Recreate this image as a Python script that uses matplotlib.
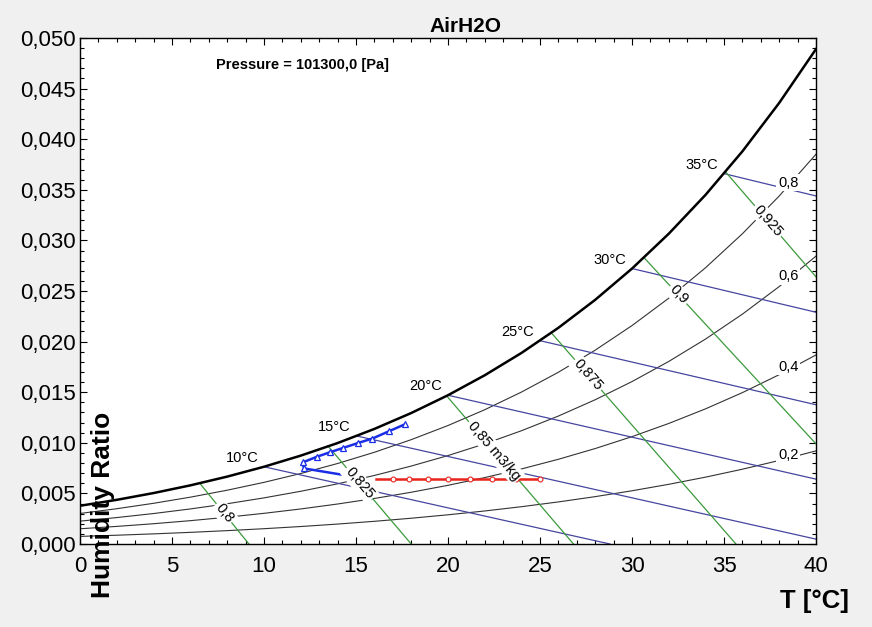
import numpy as np
import matplotlib
matplotlib.use("Agg")
import matplotlib.pyplot as plt
from matplotlib.ticker import MultipleLocator, FuncFormatter

plt.rcParams["font.family"] = ["Liberation Sans", "DejaVu Sans"]

# psychrometric chart data (T in C, humidity ratio in kg/kg)
temps = [0, 2, 4, 6, 8, 10, 12, 14, 16, 18, 20, 22, 24, 26, 28, 30, 32, 34, 36, 38, 40]
w_sat = [0.003776, 0.004365, 0.005035, 0.005796, 0.006659, 0.007634, 0.008734, 0.009975,
         0.011372, 0.012941, 0.014702, 0.016677, 0.018888, 0.021363, 0.024127, 0.027215,
         0.030663, 0.034507, 0.038799, 0.043585, 0.048906]
w_rh80 = [0.003017, 0.003487, 0.004022, 0.004628, 0.005316, 0.006092, 0.006968, 0.007955,
          0.009064, 0.010310, 0.011707, 0.013271, 0.015020, 0.016973, 0.019153, 0.021584,
          0.024290, 0.027304, 0.030657, 0.034386, 0.038519]
w_rh60 = [0.002260, 0.002612, 0.003011, 0.003465, 0.003978, 0.004558, 0.005211, 0.005947,
          0.006773, 0.007701, 0.008739, 0.009900, 0.011197, 0.012644, 0.014255, 0.016049,
          0.018042, 0.020255, 0.022713, 0.025438, 0.028448]
w_rh40 = [0.001505, 0.001739, 0.002004, 0.002306, 0.002647, 0.003031, 0.003464, 0.003952,
          0.004499, 0.005113, 0.005799, 0.006565, 0.007420, 0.008372, 0.009432, 0.010608,
          0.011913, 0.013358, 0.014959, 0.016731, 0.018681]
w_rh20 = [0.000751, 0.000868, 0.001001, 0.001151, 0.001320, 0.001512, 0.001727, 0.001970,
          0.002242, 0.002546, 0.002886, 0.003265, 0.003688, 0.004158, 0.004680, 0.005259,
          0.005900, 0.006608, 0.007391, 0.008254, 0.009202]
rh_labels = ["0,8", "0,6", "0,4", "0,2"]

# wet bulb lines (start on saturation curve)
wb_labels = ["10°C", "15°C", "20°C", "25°C", "30°C", "35°C"]
wb_start_T = [10, 15, 20, 25, 30, 35]
wb_start_w = [0.00763, 0.01069, 0.01470, 0.02009, 0.02722, 0.03660]
wb_end_T = [28.8, 40, 40, 40, 40, 40]
wb_end_w = [0.0, 0.00048, 0.00641, 0.01376, 0.02290, 0.03439]

# specific volume lines
vol_labels = ["0,8", "0,825", "0,85 m3/kg", "0,875", "0,9", "0,925"]
vol_start_T = [6.52, 13.47, 19.93, 25.6, 30.65, 35.07]
vol_start_w = [0.00598, 0.00970, 0.01463, 0.0209, 0.0283, 0.0368]
vol_end_T = [9.18, 18.0, 26.82, 35.65, 40, 40]
vol_end_w = [0.0, 0.0, 0.0, 0.0, 0.0099, 0.0264]

# process lines
blue_T = [17.66, 16.79, 15.89, 15.13, 14.31, 13.59, 12.86, 12.10, 12.17, 14.40]
blue_w = [0.01183, 0.01114, 0.01042, 0.00999, 0.00950, 0.00907, 0.00861, 0.00806, 0.00747, 0.00680]
red_T = [16.1, 17.0, 17.9, 18.9, 20.0, 21.2, 22.4, 23.7, 25.0]
red_w = [0.00641] * len(red_T)

fig = plt.figure(figsize=(8.72, 6.27), dpi=100, facecolor="#f0f0f0")
ax = fig.add_axes([80 / 872, 1 - 544 / 627, 736 / 872, 506 / 627])
ax.set_facecolor("white")
ax.set_xlim(0, 40)
ax.set_ylim(0, 0.05)

label_box = dict(boxstyle="square,pad=0.12", fc="white", ec="none")

# relative humidity curves
ax.plot(temps, w_sat, color="black", lw=1.8, zorder=3)
for lab, w in zip(rh_labels, [w_rh80, w_rh60, w_rh40, w_rh20]):
    ax.plot(temps, w, color="#333333", lw=0.8, zorder=2)
    ax.annotate(lab, (38.5, np.interp(38.5, temps, w)), xytext=(0, 3), textcoords="offset pixels",
                ha="center", va="center", fontsize=10.5, bbox=label_box, zorder=5)

# wet bulb lines
for lab, t0, w0, t1, w1 in zip(wb_labels, wb_start_T, wb_start_w, wb_end_T, wb_end_w):
    ax.plot([t0, t1], [w0, w1], color="#4646a0", lw=0.9, zorder=2)
    ax.annotate(lab, (t0, w0), xytext=(-22, 9), textcoords="offset pixels",
                ha="center", va="center", fontsize=10.5, zorder=5)

# specific volume lines
vol_frac = [0.49, 0.38, 0.37, 0.2, 0.2, 0.47]
for lab, t0, w0, t1, w1, f in zip(vol_labels, vol_start_T, vol_start_w, vol_end_T, vol_end_w, vol_frac):
    ax.plot([t0, t1], [w0, w1], color="#3c9a3c", lw=0.9, zorder=2)
    p0 = ax.transData.transform((t0, w0))
    p1 = ax.transData.transform((t1, w1))
    angle = np.degrees(np.arctan2(p1[1] - p0[1], p1[0] - p0[0]))
    ax.text(t0 + f * (t1 - t0), w0 + f * (w1 - w0), lab, rotation=angle, rotation_mode="anchor",
            ha="center", va="center", fontsize=10.5, bbox=label_box, zorder=6)

ax.plot(blue_T, blue_w, color="#1a2ee6", lw=1.8, marker="^", ms=4, mfc="white", mew=0.9,
        markevery=list(range(len(blue_T) - 1)), zorder=4)
ax.plot(red_T, red_w, color="#e8241c", lw=1.8, marker="o", ms=3.5, mfc="white", mew=0.8,
        markevery=list(range(1, len(red_T))), zorder=4)

ax.text(7.4, 0.0473, "Pressure = 101300,0 [Pa]", fontsize=10.5, fontweight="bold",
        ha="left", va="center")

ax.xaxis.set_major_locator(MultipleLocator(5))
ax.xaxis.set_minor_locator(MultipleLocator(1))
ax.yaxis.set_major_locator(MultipleLocator(0.005))
ax.yaxis.set_minor_locator(MultipleLocator(0.001))
ax.yaxis.set_major_formatter(FuncFormatter(lambda v, p: f"{v:.3f}".replace(".", ",")))
ax.tick_params(which="both", direction="in", top=True, right=True, width=0.8, labelsize=16)
ax.tick_params(which="major", length=5)
ax.tick_params(which="minor", length=3)
ax.tick_params(axis="x", pad=9)
ax.tick_params(axis="y", pad=3)
for s in ax.spines.values():
    s.set_linewidth(1.0)

fig.text(465 / 872, 1 - 26 / 627, "AirH2O", fontsize=15, fontweight="bold", ha="center", va="center")
fig.text(103 / 872, 1 - 505 / 627, "Humidity Ratio", fontsize=19, fontweight="bold",
         rotation=90, ha="center", va="center")
fig.text(814 / 872, 1 - 601 / 627, "T [°C]", fontsize=18.5, fontweight="bold", ha="center", va="center")

fig.savefig("out.png", dpi=100, facecolor=fig.get_facecolor())
